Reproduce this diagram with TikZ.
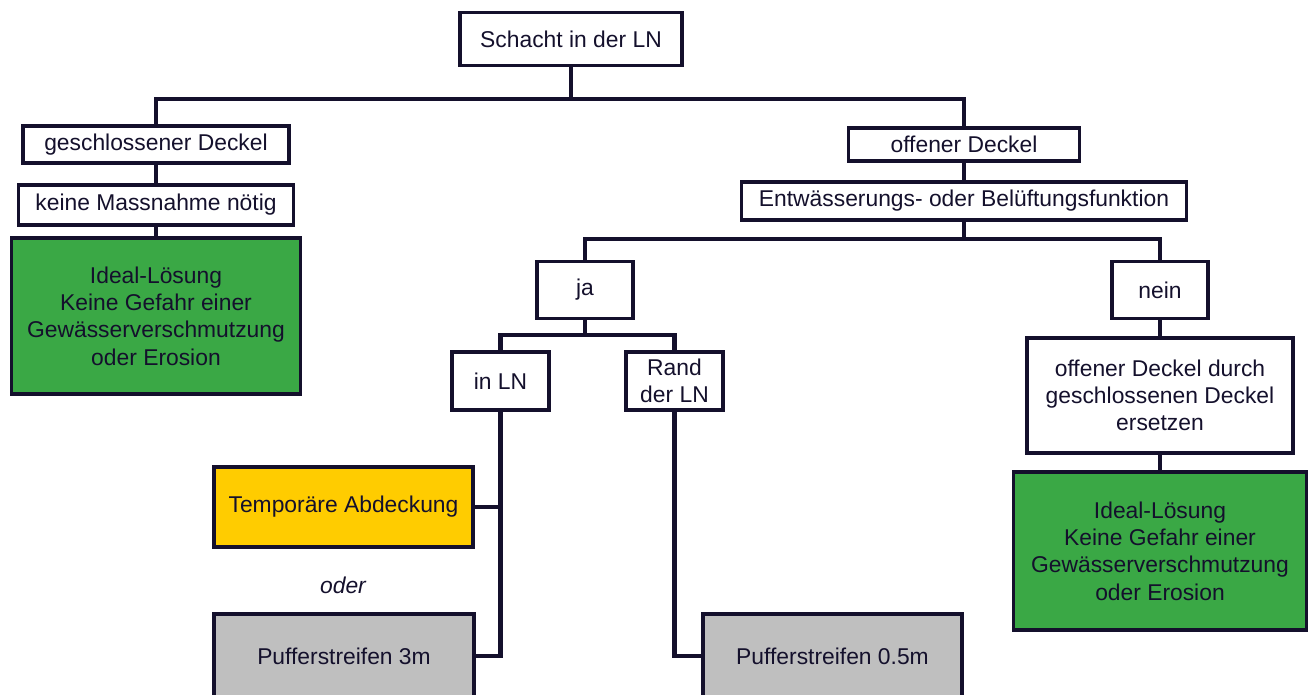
\documentclass[tikz,border=0pt]{standalone}
\usepackage{fontspec}
\setmainfont{Liberation Sans}
\usepackage{tikz}
\usetikzlibrary{
  calc,
  positioning,
}
\definecolor{navy}{RGB}{20, 16, 44}
\definecolor{idealgreen}{RGB}{58, 168, 69}
\definecolor{tempyellow}{RGB}{255, 204, 0}
\definecolor{puffergray}{RGB}{191, 191, 191}
\tikzstyle{box} = [
  draw=navy,
  line width=1.8pt,
  fill=white,
  text=navy,
  align=center,
  inner sep=0pt,
  font=\fontsize{13}{15.5}\selectfont,
]
\tikzstyle{link} = [
  draw=navy,
  line width=2.4pt,
]

\begin{document}
\begin{tikzpicture}[x=0.02cm, y=-0.02cm]

        \useasboundingbox (0,0) rectangle (1312,695);
        \clip (0,0) rectangle (1312,695);

        % Top
        \node [box, minimum width=4.44cm, minimum height=1.06cm] (schacht) at (571, 39) {Schacht in der LN};
        \coordinate (split1) at (571, 99);

        % Closed lid
        \node [box, minimum width=5.32cm, minimum height=0.74cm] (geschl) at (156, 144.5) {geschlossener Deckel};
        \node [box, minimum width=5.50cm, minimum height=0.80cm] (keine) at (156, 205) {keine Massnahme nötig};
        \node [box, fill=idealgreen, minimum width=5.78cm, minimum height=3.12cm] (idealL) at (156, 316)
              {Ideal-Lösung\\Keine Gefahr einer\\Gewässerverschmutzung\\oder Erosion};

        % Open lid
        \node [box, minimum width=4.62cm, minimum height=0.66cm] (offen) at (964, 144.5) {offener Deckel};
        \node [box, minimum width=8.90cm, minimum height=0.76cm] (entw) at (964, 201) {Entwässerungs- oder Belüftungsfunktion};
        \coordinate (split2) at (964, 239);

        \node [box, minimum width=1.92cm, minimum height=1.14cm] (ja) at (585, 290) {ja};
        \node [box, minimum width=1.92cm, minimum height=1.14cm] (nein) at (1160, 290) {nein};
        \coordinate (split3) at (585, 335);

        \node [box, minimum width=1.94cm, minimum height=1.16cm] (inln) at (500.5, 381) {in LN};
        \node [box, minimum width=1.94cm, minimum height=1.16cm] (rand) at (674.5, 381) {Rand\\der LN};

        \node [box, minimum width=5.32cm, minimum height=2.30cm] (durch) at (1160, 395.5)
              {offener Deckel durch\\geschlossenen Deckel\\ersetzen};
        \node [box, fill=idealgreen, minimum width=5.86cm, minimum height=3.16cm] (idealR) at (1160, 551)
              {Ideal-Lösung\\Keine Gefahr einer\\Gewässerverschmutzung\\oder Erosion};

        % Measures
        \node [box, fill=tempyellow, minimum width=5.18cm, minimum height=1.60cm] (temp) at (343.5, 507) {Temporäre Abdeckung};
        \node [text=navy, font=\fontsize{13}{15.5}\selectfont\itshape] (oder) at (343, 585) {oder};
        \node [box, fill=puffergray, minimum width=5.20cm, minimum height=1.68cm] (puff3) at (344, 656) {Pufferstreifen 3m};
        \node [box, fill=puffergray, minimum width=5.18cm, minimum height=1.68cm] (puff05) at (832.5, 656) {Pufferstreifen 0.5m};

        % Links
        \draw [link] (schacht) -- (split1);
        \draw [link] (geschl) |- (split1) -| (offen);
        \draw [link] (geschl) -- (keine);
        \draw [link] (keine) -- (idealL);

        \draw [link] (offen) -- (entw);
        \draw [link] (entw) -- (split2);
        \draw [link] (ja) |- (split2) -| (nein);
        \draw [link] (ja) -- (split3);
        \draw [link] (inln) |- (split3) -| (rand);

        \draw [link] (nein) -- (durch);
        \draw [link] (durch) -- (idealR);

        \draw [link] (inln) |- (temp);
        \draw [link] (inln) |- (puff3);
        \draw [link] (rand) |- (puff05);
      \end{tikzpicture}
\end{document}
